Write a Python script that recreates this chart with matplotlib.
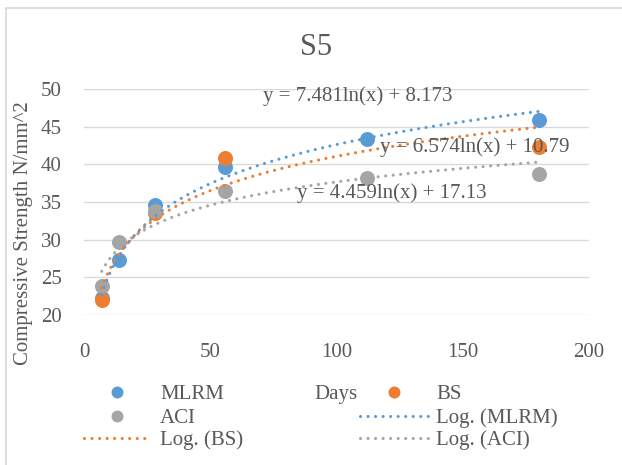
import numpy as np
import matplotlib
matplotlib.use("Agg")
import matplotlib.pyplot as plt
from matplotlib.lines import Line2D
from matplotlib.patches import Rectangle

# ---- data ----
days = [7, 14, 28, 56, 112, 180]
mlrm = [22.2, 27.3, 34.6, 39.6, 43.4, 45.9]
bs_days = [7, 28, 56, 180]
bs = [22.0, 33.5, 40.8, 42.25]
aci = [23.8, 29.7, 33.85, 36.5, 38.2, 38.7]

# log trendline coefficients (y = a ln(x) + b)
mlrm_fit = (7.481, 8.173)
bs_fit = (6.574, 10.79)
aci_fit = (4.459, 17.13)

title = "S5"
xlabel = "Days"
ylabel = "Compressive Strength N/mm^2"
xticks = [0, 50, 100, 150, 200]
yticks = [20, 25, 30, 35, 40, 45, 50]

BLUE = "#5B9BD5"
ORANGE = "#ED7D31"
GREY = "#A5A5A5"
TXT = "#595959"
GRID = "#D9D9D9"

plt.rcParams['font.family'] = ['Liberation Serif', 'DejaVu Serif']
FS = 15

W, H = 622, 465
fig = plt.figure(figsize=(W / 100, H / 100), dpi=100)

def fx(x):
    return x / W

def fy(y):
    return 1 - y / H

# chart border
fig.add_artist(Rectangle((fx(6), fy(470)), fx(630) - fx(6), fy(8) - fy(470),
                         transform=fig.transFigure, fill=False,
                         edgecolor=GRID, lw=1.2))

ax = fig.add_axes([fx(84), fy(315), fx(589) - fx(84), fy(89) - fy(315)])
ax.set_xlim(0, 200)
ax.set_ylim(20, 50)
ax.set_xticks(xticks)
ax.set_yticks(yticks)
for s in ax.spines.values():
    s.set_visible(False)
ax.yaxis.grid(True, color=GRID, lw=1.0)
ax.set_axisbelow(True)
ax.tick_params(axis='both', length=0, labelsize=FS, colors=TXT)
ax.tick_params(axis='y', pad=16)
ax.tick_params(axis='x', pad=20)

MS = 10.8
ax.plot(days, mlrm, 'o', color=BLUE, ms=MS, mec='none', zorder=3)
ax.plot(bs_days, bs, 'o', color=ORANGE, ms=MS, mec='none', zorder=3)
ax.plot(days, aci, 'o', color=GREY, ms=MS, mec='none', zorder=3)

LW = 2.25
DOT = (0, (0.01, 2.4))

def trend(xs, coef, color):
    xx = np.linspace(min(xs), max(xs), 300)
    ax.plot(xx, coef[0] * np.log(xx) + coef[1], color=color, lw=LW,
            linestyle=DOT, dash_capstyle='round', zorder=4)

trend(days, mlrm_fit, BLUE)
trend(bs_days, bs_fit, ORANGE)
trend(days, aci_fit, GREY)

def eq(coef):
    return f"y = {coef[0]:g}ln(x) + {coef[1]:g}"

fig.text(fx(263), fy(100.7), eq(mlrm_fit), fontsize=FS, color=TXT, ha='left', va='baseline')
fig.text(fx(380), fy(151.7), eq(bs_fit), fontsize=FS, color=TXT, ha='left', va='baseline')
fig.text(fx(297), fy(197.7), eq(aci_fit), fontsize=FS, color=TXT, ha='left', va='baseline')

# title & axis labels
fig.text(fx(316), fy(47.5), title, fontsize=22, color=TXT, ha='center', va='center')
fig.text(fx(24), fy(233), ylabel, fontsize=FS, color=TXT, rotation=90,
         ha='center', va='center')
fig.text(fx(336), fy(399), xlabel, fontsize=FS, color=TXT, ha='center', va='baseline')

# legend (manual, Excel style)
rows = [392.3, 415.7, 438.3]
items = [
    (0, 0, 'marker', BLUE, "MLRM"),
    (1, 0, 'marker', ORANGE, "BS"),
    (0, 1, 'marker', GREY, "ACI"),
    (1, 1, 'line', BLUE, "Log. (MLRM)"),
    (0, 2, 'line', ORANGE, "Log. (BS)"),
    (1, 2, 'line', GREY, "Log. (ACI)"),
]
cols = [(83.5, 151.0, 160.0), (359.5, 428.5, 436.0)]
for c, r, kind, color, label in items:
    x0, x1, xt = cols[c]
    y = rows[r]
    if kind == 'marker':
        fig.add_artist(Line2D([fx((x0 + x1) / 2)], [fy(y)], marker='o', ms=8.6,
                              color=color, mec='none', ls='none',
                              transform=fig.transFigure))
    else:
        fig.add_artist(Line2D([fx(x0), fx(x1)], [fy(y), fy(y)], color=color,
                              lw=LW, linestyle=DOT, dash_capstyle='round',
                              transform=fig.transFigure))
    fig.text(fx(xt), fy(y + 7), label, fontsize=FS, color=TXT,
             ha='left', va='baseline')

fig.savefig("out.png", dpi=100)
